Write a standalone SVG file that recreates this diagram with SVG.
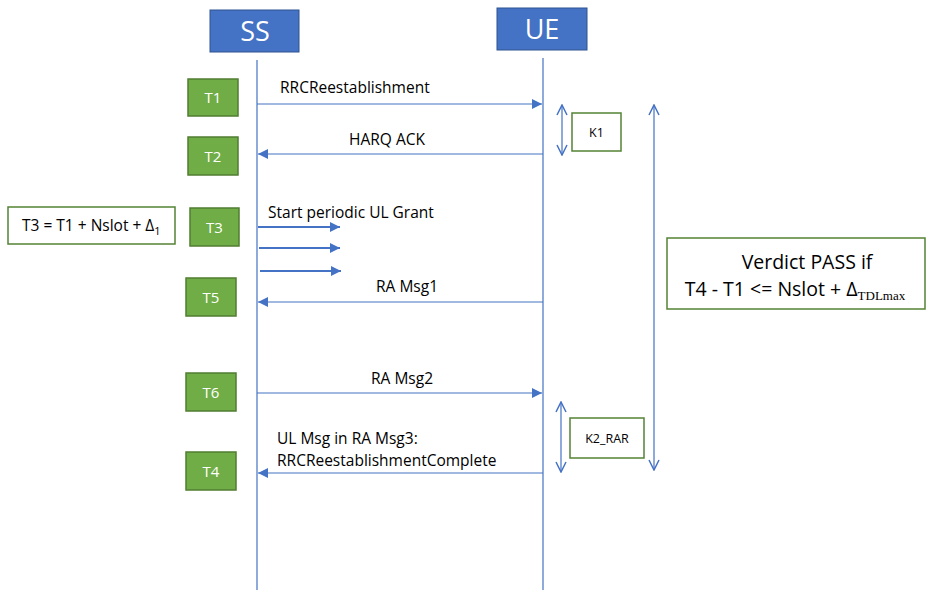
<svg xmlns="http://www.w3.org/2000/svg" width="927" height="590" viewBox="0 0 927 590">
<defs>
<style>
.hdr{fill:#4472C4;stroke:#2F528F;stroke-width:1}
.hdrt{fill:#fff;font-family:"Open Sans","Liberation Sans",sans-serif;font-size:27px;text-anchor:middle}
.tb{fill:#70AD47;stroke:#507E32;stroke-width:1.5}
.tbt{fill:#fff;font-family:"Open Sans","Liberation Sans",sans-serif;font-size:15px;text-anchor:middle}
.wb{fill:#fff;stroke:#548235;stroke-width:1.5}
.life{stroke:#4472C4;stroke-width:1.2;fill:none}
.msg{stroke:#4472C4;stroke-width:1.2;fill:none}
.thick{stroke:#4472C4;stroke-width:2;fill:none}
.lbl{fill:#000;font-family:"Open Sans","Liberation Sans",sans-serif;font-size:15.5px}
.sm{fill:#000;font-family:"Open Sans","Liberation Sans",sans-serif;font-size:12.5px;text-anchor:middle}
.big{fill:#000;font-family:"Open Sans","Liberation Sans",sans-serif;font-size:19.5px;text-anchor:middle}
</style>
<marker id="ah" viewBox="0 0 10 10" refX="10" refY="5" markerWidth="10" markerHeight="10" markerUnits="userSpaceOnUse" orient="auto-start-reverse">
<path d="M0,0 L10,5 L0,10 z" fill="#4472C4"/>
</marker>
<marker id="oa" viewBox="0 0 12 12" refX="11" refY="6" markerWidth="12" markerHeight="12" markerUnits="userSpaceOnUse" orient="auto-start-reverse">
<path d="M1,1 L11,6 L1,11" fill="none" stroke="#4472C4" stroke-width="1.5"/>
</marker>
</defs>
<rect width="927" height="590" fill="#fff"/>

<g id="SS"><rect class="hdr" x="210" y="10" width="89" height="42"/><text class="hdrt" x="255" y="41">SS</text></g>
<g id="UE"><rect class="hdr" x="497" y="8" width="90" height="42"/><text class="hdrt" x="542" y="39">UE</text></g>

<g id="T1"><rect class="tb" x="188" y="79" width="50" height="37"/><text class="tbt" x="213" y="103">T1</text></g>
<g id="T2"><rect class="tb" x="188" y="137" width="50" height="38"/><text class="tbt" x="213" y="162">T2</text></g>
<g id="T3"><rect class="tb" x="190" y="208" width="49" height="38"/><text class="tbt" x="214.5" y="233">T3</text></g>
<g id="T5"><rect class="tb" x="186" y="278" width="50" height="38"/><text class="tbt" x="211" y="303">T5</text></g>
<g id="T6"><rect class="tb" x="186" y="373" width="50" height="38"/><text class="tbt" x="211" y="398">T6</text></g>
<g id="T4"><rect class="tb" x="186" y="452" width="50" height="38"/><text class="tbt" x="211" y="477">T4</text></g>

<g id="T3formula"><rect class="wb" x="8" y="207" width="167" height="37"/>
<text class="lbl" x="22" y="231">T3 = T1 + Nslot + Δ<tspan font-size="11" dy="4">1</tspan></text></g>

<g id="K1"><rect class="wb" x="572" y="113" width="49" height="38"/><text class="sm" x="596.5" y="137">K1</text></g>
<g id="K2_RAR"><rect class="wb" x="570" y="418" width="74" height="40"/><text class="sm" x="607" y="443">K2_RAR</text></g>

<g id="Verdict"><rect class="wb" x="667" y="238" width="258" height="71"/>
<text class="big" x="807" y="269">Verdict PASS if</text>
<text class="big" x="795" y="296">T4 - T1 &lt;= Nslot + Δ<tspan font-family="Liberation Serif,serif" font-size="13" dy="4">TDLmax</tspan></text></g>

<g id="connectors">
<line class="life" x1="257" y1="60" x2="257" y2="590"/>
<line class="life" x1="543" y1="58" x2="543" y2="590"/>
<line class="msg" x1="257" y1="104" x2="542" y2="104" marker-end="url(#ah)"/>
<line class="msg" x1="543" y1="154" x2="258" y2="154" marker-end="url(#ah)"/>
<line class="thick" x1="258" y1="227" x2="340" y2="227" marker-end="url(#ah)"/>
<line class="thick" x1="259" y1="248" x2="340" y2="248" marker-end="url(#ah)"/>
<line class="thick" x1="260" y1="271" x2="341" y2="271" marker-end="url(#ah)"/>
<line class="msg" x1="543" y1="302" x2="258" y2="302" marker-end="url(#ah)"/>
<line class="msg" x1="257" y1="393" x2="542" y2="393" marker-end="url(#ah)"/>
<line class="msg" x1="543" y1="473" x2="258" y2="473" marker-end="url(#ah)"/>
<line class="msg" x1="562" y1="105" x2="562" y2="155" marker-start="url(#oa)" marker-end="url(#oa)"/>
<line class="msg" x1="561" y1="402" x2="561" y2="472" marker-start="url(#oa)" marker-end="url(#oa)"/>
<line class="msg" x1="654" y1="105" x2="654" y2="470" marker-start="url(#oa)" marker-end="url(#oa)"/>
<text class="lbl" x="280" y="93">RRCReestablishment</text>
<text class="lbl" x="387" y="145" text-anchor="middle">HARQ ACK</text>
<text class="lbl" x="268" y="218">Start periodic UL Grant</text>
<text class="lbl" x="407" y="292" text-anchor="middle">RA Msg1</text>
<text class="lbl" x="402" y="384" text-anchor="middle">RA Msg2</text>
<text class="lbl" x="277" y="444">UL Msg in RA Msg3:</text>
<text class="lbl" x="277" y="466">RRCReestablishmentComplete</text>
</g>
</svg>
